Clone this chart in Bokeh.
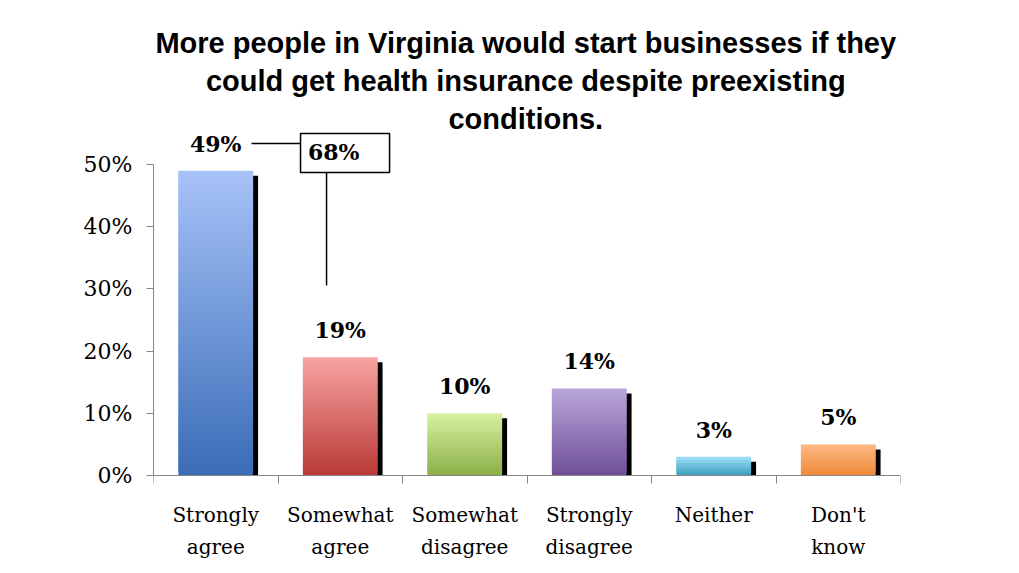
from bokeh.plotting import figure
from bokeh.models import (Range1d, FactorRange, LinearAxis, FixedTicker,
                          NumeralTickFormatter, LabelSet, Label, BoxAnnotation, ColumnDataSource)
from bokeh.transform import dodge
from bokeh.core.properties import value
from bokeh.embed import file_html
from bokeh.resources import INLINE

# ---- data ----
categories = ["Strongly agree", "Somewhat agree", "Somewhat disagree",
              "Strongly disagree", "Neither", "Don't know"]
label_line1 = ["Strongly", "Somewhat", "Somewhat", "Strongly", "Neither", "Don't"]
label_line2 = ["agree", "agree", "disagree", "disagree", "", "know"]
values = [49, 19, 10, 14, 3, 5]
y_ticks = [0, 10, 20, 30, 40, 50]
top_colors = ["#a7c2f8", "#f8a4a2", "#d5f3a0", "#baa6da", "#9ee0f8", "#fdb884"]
bottom_colors = ["#3a6cb6", "#b93a36", "#8cae48", "#6e4f98", "#3c9cbc", "#f08a38"]
title_lines = ["More people in Virginia would start businesses if they",
               "could get health insurance despite preexisting",
               "conditions."]

AXIS_GRAY = "#868686"
SERIF = "DejaVu Serif"
PX_PER_UNIT = 622.0
TOP_PX, BOTTOM_PX = 475, 87


def mix(c1, c2, t):
    a = [int(c1[i:i + 2], 16) for i in (1, 3, 5)]
    b = [int(c2[i:i + 2], 16) for i in (1, 3, 5)]
    return "#%02x%02x%02x" % tuple(round(a[j] + (b[j] - a[j]) * t) for j in range(3))


p = figure(frame_width=747, frame_height=TOP_PX + BOTTOM_PX,
           x_range=FactorRange(factors=categories),
           y_range=Range1d(-BOTTOM_PX / PX_PER_UNIT, TOP_PX / PX_PER_UNIT),
           output_backend="svg", toolbar_location=None,
           x_axis_location=None, y_axis_location=None,
           min_border_left=153, min_border_right=112, min_border_top=0, min_border_bottom=0)
p.outline_line_color = None
p.xgrid.visible = False
p.ygrid.visible = False
p.background_fill_color = "white"
p.border_fill_color = "white"

# ---- bars ----
src = ColumnDataSource(dict(
    cat=categories,
    top=[v / 100 for v in values],
    shadow_top=[v / 100 - 0.008 for v in values],
    label=[f"{v}%" for v in values],
    line1=label_line1,
    line2=label_line2,
))

# shadow
p.vbar(x=dodge("cat", 0.04, range=p.x_range), top="shadow_top", bottom=0, width=0.6,
       fill_color="black", line_color=None, source=src)

# gradient bars built from horizontal slices
xs, bots, tops, cols = [], [], [], []
for cat, v, ct, cb in zip(categories, values, top_colors, bottom_colors):
    h = v / 100
    n = max(3, int(h * PX_PER_UNIT / 3))
    for k in range(n):
        xs.append(cat)
        bots.append(h * k / n)
        tops.append(min(h, h * (k + 1.8) / n))
        cols.append(mix(cb, ct, (k + 0.5) / n))
p.vbar(x="x", bottom="bottom", top="top", width=0.6, fill_color="color", line_color=None,
       source=ColumnDataSource(dict(x=xs, bottom=bots, top=tops, color=cols)))

# data labels
p.add_layout(LabelSet(x="cat", y="top", text="label", source=src, y_offset=27,
                      text_align="center", text_baseline="middle",
                      text_font=value(SERIF), text_font_style="bold",
                      text_font_size="22px", text_color="black"))

# category labels (two lines)
for field, off in (("line1", -39), ("line2", -71)):
    p.add_layout(LabelSet(x="cat", y=0, text=field, source=src, y_offset=off,
                          text_align="center", text_baseline="middle",
                          text_font=value(SERIF), text_font_size="20px", text_color="black"))

# ---- callout (combined agree) ----
p.segment(x0=[0.787, 1.39], y0=[0.5338, 0.4871], x1=[1.181, 1.39], y1=[0.5338, 0.3055],
          line_color="black", line_width=1.5)
p.add_layout(BoxAnnotation(left=1.181, right=1.896, bottom=0.4871, top=0.5498,
                           fill_color="white", fill_alpha=1,
                           line_color="black", line_alpha=1, line_width=1.5))
p.add_layout(Label(x=1.24, y=0.5193,
                   text=f"{values[0] + values[1]}%", text_align="left",
                   text_baseline="middle", text_font=SERIF, text_font_style="bold",
                   text_font_size="22px", text_color="black"))

# ---- title ----
for line, yy in zip(title_lines, [0.6961, 0.6350, 0.5739]):
    p.add_layout(Label(x=2.99, y=yy, text=line, text_align="center",
                       text_baseline="middle", text_font="Liberation Sans",
                       text_font_style="bold", text_font_size="29px", text_color="black"))

# ---- axes ----
yax = LinearAxis(ticker=FixedTicker(ticks=[t / 100 for t in y_ticks], minor_ticks=[]),
                 formatter=NumeralTickFormatter(format="0%"), bounds=(0, 0.5),
                 axis_line_color=AXIS_GRAY, major_tick_line_color=AXIS_GRAY,
                 major_tick_out=7, major_tick_in=0, minor_tick_line_color=None,
                 major_label_standoff=14, major_label_text_font=SERIF,
                 major_label_text_font_size="22px", major_label_text_color="black")
p.add_layout(yax, "left")

xt = LinearAxis(ticker=FixedTicker(ticks=list(range(7)), minor_ticks=[]),
                fixed_location=0,
                axis_line_color=AXIS_GRAY, major_tick_line_color=AXIS_GRAY,
                major_tick_out=8, major_tick_in=0, minor_tick_line_color=None,
                major_label_overrides={i: "" for i in range(7)},
                major_label_standoff=0, major_label_text_font_size="1px")
p.add_layout(xt, "below")

open("out.html", "w").write(file_html(p, INLINE))
